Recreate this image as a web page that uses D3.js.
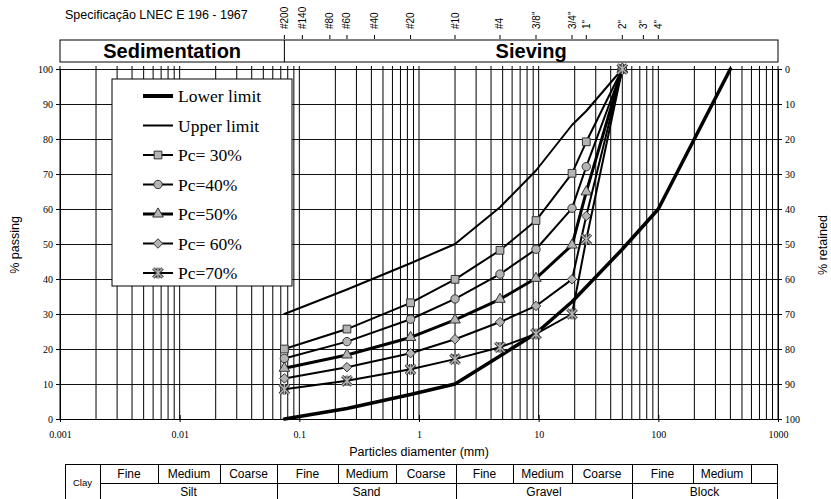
<!DOCTYPE html>
<html>
<head>
<meta charset="utf-8">
<script src="https://cdn.jsdelivr.net/npm/d3@7/dist/d3.min.js"></script>
<style>
  body { margin: 0; background: #fff; }
  svg { display: block; }
</style>
</head>
<body>
<svg id="chart"></svg>
<script>
var width = 831, height = 499;

// sieve sizes (mm) where samples were measured
var sizes = [0.075, 0.25, 0.85, 2, 4.75, 9.5, 19, 25, 50];
var pc30 = [20, 25.7, 33.2, 39.9, 48.2, 56.7, 70.2, 79.2, 100];
var pc40 = [17.3, 22.1, 28.5, 34.3, 41.4, 48.5, 60.2, 72.1, 100];
var pc50 = [14.5, 18.3, 23.3, 28.3, 34.2, 40.2, 49.7, 64.9, 100];
var pc60 = [11.6, 14.8, 18.8, 22.8, 27.7, 32.3, 39.9, 58, 100];
var pc70 = [8.5, 10.9, 14.2, 17.1, 20.5, 24.3, 30, 51.3, 100];
var upperLimit = [30, 37, 44.5, 50, 60.5, 71, 84, 88, 100];
var lowerSizes = [0.075, 0.25, 0.85, 2, 4.75, 9.5, 19, 50, 100, 400];
var lowerLimit = [0, 3, 7, 10, 18, 24.5, 33.5, 48.5, 60, 100];

// sieve labels on top
var sieveNames = ["#200", "#140", "#80", "#60", "#40", "#20", "#10", "#4", "3/8\"", "3/4\"", "1\"", "2\"", "3\"", "4\""];
var sieveMm = [0.075, 0.106, 0.18, 0.25, 0.425, 0.85, 2, 4.75, 9.5, 19, 25, 50, 75, 100];

var xTicks = [0.001, 0.01, 0.1, 1, 10, 100, 1000];
var yTicks = [0, 10, 20, 30, 40, 50, 60, 70, 80, 90, 100];

// soil classification table
var topCells = ["Fine", "Medium", "Coarse", "Fine", "Medium", "Coarse", "Fine", "Medium", "Coarse", "Fine", "Medium", ""];
var topWidths = [58, 62, 57, 61, 58, 60, 57, 59, 60, 61, 58, 26];
var groups = ["Silt", "Sand", "Gravel", "Block"];

var serif = "'Liberation Serif', 'Times New Roman', serif";
var sans = "'Liberation Sans', Arial, sans-serif";

var svg = d3.select("#chart").attr("width", width).attr("height", height);

var x = d3.scaleLog().domain([0.001, 1000]).range([60, 778]);
var y = d3.scaleLinear().domain([0, 100]).range([419, 69]);
var y2 = d3.scaleLinear().domain([0, 100]).range([69, 419]);

// minor grid
var gridX = [];
[0.001, 0.01, 0.1, 1, 10, 100].forEach(function(d) {
  for (var i = 1; i < 10; i++) gridX.push(d * i);
});
gridX.push(1000);

svg.append("g").selectAll("line")
  .data(gridX)
 .enter().append("line")
  .attr("x1", function(d) { return x(d); })
  .attr("x2", function(d) { return x(d); })
  .attr("y1", y(100) - 3)
  .attr("y2", y(0))
  .attr("stroke", "#000")
  .attr("stroke-width", 1);

svg.append("g").selectAll("line")
  .data(yTicks)
 .enter().append("line")
  .attr("x1", x(0.001))
  .attr("x2", x(1000))
  .attr("y1", function(d) { return y(d); })
  .attr("y2", function(d) { return y(d); })
  .attr("stroke", "#111")
  .attr("shape-rendering", "crispEdges");

// left axis
var yAxis = d3.axisLeft(y).tickValues(yTicks).tickSize(4).tickPadding(3);
svg.append("g")
  .attr("transform", "translate(" + x(0.001) + ",0)")
  .call(yAxis)
  .call(function(g) { g.select(".domain").attr("stroke", "#000"); })
  .selectAll("text").style("font-family", serif).style("font-size", "10px").attr("fill", "#000");

// right axis (% retained)
var yAxisR = d3.axisRight(y2).tickValues(yTicks).tickSize(4).tickPadding(3);
svg.append("g")
  .attr("transform", "translate(" + x(1000) + ",0)")
  .call(yAxisR)
  .selectAll("text").style("font-family", serif).style("font-size", "10px").attr("fill", "#000");

// bottom axis
var xAxis = d3.axisBottom(x).tickValues(xTicks).tickSize(3).tickPadding(9)
  .tickFormat(function(d) { return d3.format("~g")(d); });
svg.append("g")
  .attr("transform", "translate(0," + y(0) + ")")
  .call(xAxis)
  .call(function(g) {
    g.selectAll(".tick line").attr("y1", -4);
  })
  .selectAll("text").style("font-family", serif).style("font-size", "10px").attr("fill", "#000");

// axis titles
svg.append("text")
  .attr("transform", "translate(15," + (y(50) + 1) + ") rotate(-90)")
  .attr("text-anchor", "middle")
  .attr("dy", "0.35em")
  .style("font-family", sans).style("font-size", "12.5px")
  .text("% passing");

svg.append("text")
  .attr("transform", "translate(823," + (y(50) + 1) + ") rotate(-90)")
  .attr("text-anchor", "middle")
  .attr("dy", "0.35em")
  .style("font-family", sans).style("font-size", "12.5px")
  .text("% retained");

svg.append("text")
  .attr("x", x(1))
  .attr("y", 456)
  .attr("text-anchor", "middle")
  .style("font-family", sans).style("font-size", "12.5px")
  .text("Particles diamenter (mm)");

// header
svg.append("text")
  .attr("x", 65)
  .attr("y", 18.5)
  .style("font-family", sans).style("font-size", "12.5px")
  .text("Specificação LNEC E 196 - 1967");

var sieve = svg.append("g").selectAll("g")
  .data(sieveNames)
 .enter().append("g");
sieve.append("line")
  .attr("x1", function(d, i) { return x(sieveMm[i]); })
  .attr("x2", function(d, i) { return x(sieveMm[i]); })
  .attr("y1", 35).attr("y2", 39)
  .attr("stroke", "#000");
sieve.append("text")
  .attr("transform", function(d, i) { return "translate(" + x(sieveMm[i]) + ",29) rotate(-90)"; })
  .attr("dy", "0.35em")
  .style("font-family", sans).style("font-size", "10px")
  .text(function(d) { return d; });

svg.append("rect")
  .attr("x", x(0.001)).attr("y", 40)
  .attr("width", x(1000) - x(0.001)).attr("height", 22)
  .attr("fill", "#fff").attr("stroke", "#000");
svg.append("line")
  .attr("x1", x(0.075)).attr("x2", x(0.075))
  .attr("y1", 40).attr("y2", 62)
  .attr("stroke", "#000");
svg.append("text")
  .attr("x", (x(0.001) + x(0.075)) / 2).attr("y", 58)
  .attr("text-anchor", "middle")
  .style("font-family", sans).style("font-size", "20px").style("font-weight", "bold")
  .text("Sedimentation");
svg.append("text")
  .attr("x", (x(0.075) + x(1000)) / 2).attr("y", 58)
  .attr("text-anchor", "middle")
  .style("font-family", sans).style("font-size", "20px").style("font-weight", "bold")
  .text("Sieving");

// curves
var line = d3.line()
  .x(function(d) { return x(d[0]); })
  .y(function(d) { return y(d[1]); });

function pairs(xs, ys) { return xs.map(function(d, i) { return [d, ys[i]]; }); }

var asterisk = {
  draw: function(ctx, size) {
    var r = Math.sqrt(size) / 2;
    ctx.moveTo(-r, -r); ctx.lineTo(r, r);
    ctx.moveTo(-r, r); ctx.lineTo(r, -r);
    ctx.moveTo(0, -r * 1.1); ctx.lineTo(0, r * 1.1);
  }
};

var squareDiamond = {
  draw: function(ctx, size) {
    var r = Math.sqrt(size) / 2;
    ctx.moveTo(0, -r); ctx.lineTo(r, 0); ctx.lineTo(0, r); ctx.lineTo(-r, 0);
    ctx.closePath();
  }
};

var series = [
  { name: "Lower limit", xs: lowerSizes, ys: lowerLimit, w: 3.5, sym: null },
  { name: "Upper limit", xs: sizes, ys: upperLimit, w: 2, sym: null },
  { name: "Pc= 30%", xs: sizes, ys: pc30, w: 2, sym: d3.symbolSquare, size: 60 },
  { name: "Pc=40%", xs: sizes, ys: pc40, w: 2, sym: d3.symbolCircle, size: 55 },
  { name: "Pc=50%", xs: sizes, ys: pc50, w: 3, sym: d3.symbolTriangle, size: 48 },
  { name: "Pc= 60%", xs: sizes, ys: pc60, w: 2, sym: squareDiamond, size: 90 },
  { name: "Pc=70%", xs: sizes, ys: pc70, w: 2, sym: asterisk, size: 90 }
];

function drawMarker(g, s, tx, ty) {
  if (!s.sym) return;
  var path = d3.symbol().type(s.sym).size(s.size)();
  if (s.sym === asterisk) {
    g.append("path").attr("d", path).attr("transform", "translate(" + tx + "," + ty + ")")
      .attr("fill", "none").attr("stroke", "#333").attr("stroke-width", 3.2);
    g.append("path").attr("d", path).attr("transform", "translate(" + tx + "," + ty + ")")
      .attr("fill", "none").attr("stroke", "#b4b4b4").attr("stroke-width", 1.4);
  } else {
    g.append("path").attr("d", path).attr("transform", "translate(" + tx + "," + ty + ")")
      .attr("fill", "#b4b4b4").attr("stroke", "#333").attr("stroke-width", 1);
  }
}

series.forEach(function(s) {
  var g = svg.append("g");
  g.append("path")
    .datum(pairs(s.xs, s.ys))
    .attr("d", line)
    .attr("fill", "none")
    .attr("stroke", "#000")
    .attr("stroke-width", s.w)
    .attr("stroke-linejoin", "round")
    .attr("stroke-linecap", "round");
  pairs(s.xs, s.ys).forEach(function(p) { drawMarker(g, s, x(p[0]), y(p[1])); });
});

// legend
var legend = svg.append("g");
legend.append("rect")
  .attr("x", 112).attr("y", 79)
  .attr("width", 180).attr("height", 207)
  .attr("fill", "#fff").attr("stroke", "#000");
series.forEach(function(s, i) {
  var ly = 96 + i * 29.5;
  legend.append("line")
    .attr("x1", 143).attr("x2", 173)
    .attr("y1", ly).attr("y2", ly)
    .attr("stroke", "#000")
    .attr("stroke-width", s.w === 3.5 ? 4 : s.w);
  drawMarker(legend, s, 158, ly);
  legend.append("text")
    .attr("x", 178).attr("y", ly + 6)
    .style("font-family", serif).style("font-size", "17.5px")
    .text(s.name);
});

// classification table
var table = svg.append("g").attr("stroke", "#000").attr("fill", "none");
var t0 = 65, tTop = 464, tMid = 483, tBot = 501, clayW = 35;
var edges = [t0 + clayW];
topWidths.forEach(function(w) { edges.push(edges[edges.length - 1] + w); });

table.append("rect").attr("x", t0).attr("y", tTop)
  .attr("width", edges[edges.length - 1] - t0).attr("height", tBot - tTop);
table.append("line").attr("x1", edges[0]).attr("x2", edges[edges.length - 1])
  .attr("y1", tMid).attr("y2", tMid);
edges.slice(0, -1).forEach(function(e, i) {
  var full = (i % 3 === 0) && i < 12;
  table.append("line").attr("x1", e).attr("x2", e)
    .attr("y1", tTop).attr("y2", full ? tBot : tMid);
});
table.selectAll("line, rect").attr("shape-rendering", "crispEdges");

var ttext = svg.append("g").style("font-family", sans).attr("text-anchor", "middle");
ttext.append("text").attr("x", t0 + clayW / 2).attr("y", tMid + 3)
  .style("font-size", "9.5px").text("Clay");
topCells.forEach(function(c, i) {
  ttext.append("text").attr("x", (edges[i] + edges[i + 1]) / 2).attr("y", 478)
    .style("font-size", "12px").text(c);
});
groups.forEach(function(gname, i) {
  var a = edges[i * 3];
  var b = (i === groups.length - 1) ? edges[edges.length - 1] : edges[i * 3 + 3];
  ttext.append("text").attr("x", (a + b) / 2).attr("y", 496)
    .style("font-size", "12px").text(gname);
});
</script>
</body>
</html>
